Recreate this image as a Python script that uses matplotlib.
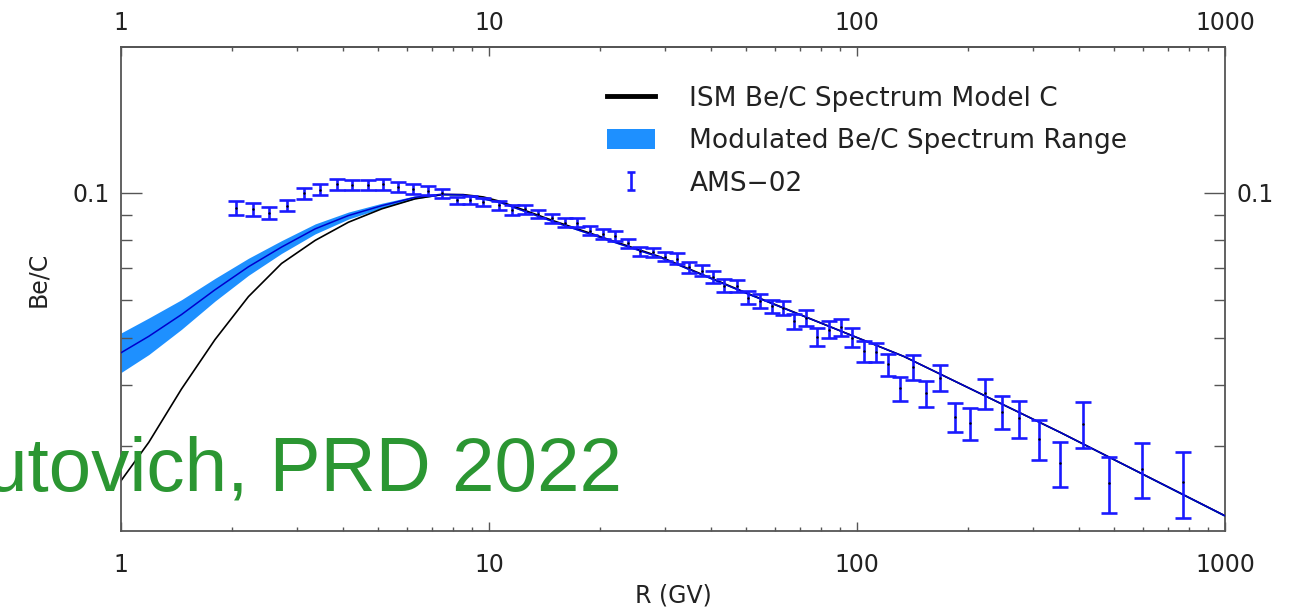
"""Be/C ratio vs rigidity: ISM model, modulated range and AMS-02 data."""
import matplotlib
matplotlib.use('Agg')
import matplotlib.pyplot as plt
import matplotlib.ticker as mticker
from matplotlib.patches import Patch
from matplotlib.lines import Line2D
from matplotlib.path import Path

W, H = 1308, 615

# ── AMS-02 Be/C points ───────────────────────────────────────────────────────
ams_R = [2.05, 2.28, 2.53, 2.82, 3.14, 3.47, 3.86, 4.25, 4.70, 5.14,
         5.67, 6.23, 6.81, 7.45, 8.20, 8.88, 9.65, 10.67, 11.53, 12.53,
         13.61, 14.81, 16.09, 17.31, 18.82, 20.37, 22.0, 23.9, 25.7, 27.96,
         30.1, 32.4, 35.0, 37.8, 40.5, 43.6, 47.1, 50.7, 54.5, 58.6,
         62.8, 67.5, 72.5, 78.0, 84.1, 90.3, 97.1, 104.5, 112.4, 121.2,
         130.9, 141.7, 154.0, 168.1, 184.6, 202.8, 222.7, 247.4, 276.1, 312.3,
         356.1, 410.6, 484.9, 593.7, 767.6]
ams_val = [0.0931, 0.0924, 0.0907, 0.0940, 0.0998, 0.1015, 0.1041, 0.1038, 0.1038, 0.1040,
           0.1027, 0.1017, 0.1010, 0.0998, 0.0965, 0.0967, 0.0957, 0.0942, 0.0922, 0.0924,
           0.0904, 0.0885, 0.0867, 0.0867, 0.0834, 0.0823, 0.0813, 0.0786, 0.0757, 0.0753,
           0.0738, 0.0730, 0.0701, 0.0690, 0.0669, 0.0643, 0.0642, 0.0607, 0.0598, 0.0582,
           0.0578, 0.0542, 0.0551, 0.0504, 0.0521, 0.0527, 0.0502, 0.0470, 0.0468, 0.0442,
           0.0394, 0.0436, 0.0385, 0.0415, 0.0344, 0.0334, 0.0385, 0.0353, 0.0342, 0.0310,
           0.0276, 0.0333, 0.0251, 0.0269, 0.0252]
ams_err = [0.0030, 0.0027, 0.0026, 0.0025, 0.0027, 0.0026, 0.0027, 0.0025, 0.0025, 0.0026,
           0.0026, 0.0025, 0.0023, 0.0021, 0.0017, 0.0019, 0.0020, 0.0021, 0.0022, 0.0020,
           0.0019, 0.0020, 0.0018, 0.0018, 0.0018, 0.0019, 0.0019, 0.0017, 0.0017, 0.0016,
           0.0016, 0.0019, 0.0018, 0.0018, 0.0019, 0.0019, 0.0018, 0.0018, 0.0019, 0.0018,
           0.0019, 0.0020, 0.0020, 0.0021, 0.0021, 0.0022, 0.0023, 0.0023, 0.0022, 0.0023,
           0.0022, 0.0025, 0.0024, 0.0026, 0.0024, 0.0025, 0.0028, 0.0028, 0.0030, 0.0029,
           0.0029, 0.0036, 0.0033, 0.0035, 0.0039]

# ── ISM model C ───────────────────────────────────────────────────────────────
ism_R = [1.0, 1.19, 1.46, 1.80, 2.22, 2.73, 3.37, 4.15, 5.11, 6.29,
         7.44, 8.5, 9.65, 10.7, 14.9, 22.7, 29.2, 50.0, 102.0, 134.0, 356.0, 1000.0]
ism_val = [0.0254, 0.0305, 0.0393, 0.0497, 0.0610, 0.0714, 0.0797, 0.0869, 0.0926, 0.0971,
           0.0991, 0.0991, 0.0980, 0.0960, 0.0876, 0.0786, 0.0737, 0.0621, 0.0499, 0.0459,
           0.0320, 0.0215]

# ── Modulated range ───────────────────────────────────────────────────────────
mod_R = [1.0, 1.19, 1.46, 1.80, 2.22, 2.73, 3.37, 4.15, 5.11, 6.29,
         7.44, 8.5, 10.7, 14.9, 22.7, 29.2, 50.0, 102.0, 134.0, 356.0, 1000.0]
mod_mid = [0.0467, 0.0505, 0.0560, 0.0630, 0.0703, 0.0772, 0.0842, 0.0897, 0.0940, 0.0978,
           0.0993, 0.0990, 0.0955, 0.0872, 0.0783, 0.0735, 0.0620, 0.0499, 0.0459, 0.0320, 0.0215]
mod_hi = [0.0513, 0.0551, 0.0601, 0.0665, 0.0732, 0.0796, 0.0862, 0.0912, 0.0951, 0.0985,
          0.0997, 0.0993, 0.0957, 0.0874, 0.0785, 0.0737, 0.0622, 0.0500, 0.0460, 0.0321, 0.0216]
mod_lo = [0.0425, 0.0463, 0.0522, 0.0597, 0.0675, 0.0749, 0.0822, 0.0882, 0.0929, 0.0971,
          0.0989, 0.0987, 0.0953, 0.0870, 0.0781, 0.0733, 0.0618, 0.0498, 0.0458, 0.0319, 0.0214]

xticks = [1, 10, 100, 1000]
xtick_labels = ['1', '10', '100', '1000']

FONT = 'DejaVu Sans'
plt.rcParams['font.family'] = FONT
TXT = '#222222'
AX_C = '#555555'
ERR_C = '#1a1aff'
BAND_C = '#1E90FF'

fig = plt.figure(figsize=(W / 100, H / 100), dpi=100)
ax = fig.add_axes([121 / W, 1 - 531 / H, (1225 - 121) / W, (531 - 47) / H])

ax.fill_between(mod_R, mod_lo, mod_hi, color=BAND_C, lw=0, zorder=1)
ax.plot(ism_R, ism_val, color='black', lw=1.2, zorder=2)
ax.plot(mod_R, mod_mid, color='#0000CC', lw=1.1, zorder=3)
ax.errorbar(ams_R, ams_val, yerr=ams_err, fmt='.', ms=1.5, color='black',
            ecolor=ERR_C, elinewidth=1.9, capsize=6, capthick=1.9, zorder=4)

ax.set_xscale('log')
ax.set_yscale('log')
ax.set_xlim(1, 1000)
ax.set_ylim(0.02, 0.2)

for s in ax.spines.values():
    s.set_color(AX_C)
    s.set_linewidth(1.3)

# x axis (bottom)
ax.set_xticks(xticks)
ax.set_xticklabels(xtick_labels)
ax.xaxis.set_minor_locator(mticker.LogLocator(base=10, subs=range(2, 10)))
ax.xaxis.set_minor_formatter(mticker.NullFormatter())
ax.tick_params(axis='x', which='major', direction='in', length=6.8, width=1,
               color=AX_C, labelsize=17, labelcolor=TXT, pad=16, top=False)
ax.tick_params(axis='x', which='minor', direction='in', length=2.9, width=1,
               color=AX_C, top=False)

# x axis (top) with its own label pad
sec = ax.secondary_xaxis('top')
sec.set_xticks(xticks)
sec.set_xticklabels(xtick_labels)
sec.xaxis.set_minor_locator(mticker.LogLocator(base=10, subs=range(2, 10)))
sec.xaxis.set_minor_formatter(mticker.NullFormatter())
sec.tick_params(axis='x', which='major', direction='in', length=6.8, width=1,
                color=AX_C, labelsize=17, labelcolor=TXT, pad=8.5)
sec.tick_params(axis='x', which='minor', direction='in', length=2.9, width=1, color=AX_C)
sec.spines['top'].set_color(AX_C)
sec.spines['top'].set_linewidth(1.3)

# y axis, both sides
ax.yaxis.set_major_locator(mticker.FixedLocator([0.1]))
ax.yaxis.set_major_formatter(mticker.FixedFormatter(['0.1']))
ax.yaxis.set_minor_locator(mticker.FixedLocator([0.03, 0.04, 0.05, 0.06, 0.07, 0.08, 0.09]))
ax.yaxis.set_minor_formatter(mticker.NullFormatter())
ax.tick_params(axis='y', which='major', direction='in', length=15, width=1,
               color=AX_C, labelsize=17, labelcolor=TXT, pad=8,
               left=True, right=True, labelleft=True, labelright=True)
ax.tick_params(axis='y', which='minor', direction='in', length=7.9, width=1,
               color=AX_C, left=True, right=True)

ax.set_xlabel('R (GV)', fontsize=17, color=TXT)
ax.xaxis.set_label_coords(0.5, (531 - 584) / 484)
ax.set_ylabel('Be/C', fontsize=17, color=TXT)
ax.yaxis.set_label_coords((50 - 121) / 1104, 0.52)

# legend; the AMS handle is an "I" shaped marker (bar with two caps)
ibar = Path([(-0.45, -1), (0.45, -1), (0, -1), (0, 1), (-0.45, 1), (0.45, 1)],
            [Path.MOVETO, Path.LINETO, Path.MOVETO, Path.LINETO, Path.MOVETO, Path.LINETO])
handles = [Line2D([], [], color='black', lw=3.5),
           Patch(facecolor=BAND_C, edgecolor='none'),
           Line2D([], [], ls='none', marker=ibar, ms=12.5, mew=1.9,
                  mec=ERR_C, mfc='none')]
labels = ['ISM Be/C Spectrum Model C', 'Modulated Be/C Spectrum Range', 'AMS\u221202']
leg = ax.legend(handles, labels, loc='upper left', frameon=False,
                bbox_to_anchor=(607 / W, 1 - 86 / H), bbox_transform=fig.transFigure,
                fontsize=19, handlelength=1.82, handleheight=0.8, handletextpad=1.3,
                labelspacing=0.62, borderaxespad=0, borderpad=0)
for t in leg.get_texts():
    t.set_color(TXT)

# citation overlay, clipped at the left edge
fig.text(622 / W, 1 - 490 / H, 'utovich, PRD 2022', ha='right', va='baseline',
         fontsize=55, color='#2B9632', family=['Liberation Sans', 'DejaVu Sans'],
         zorder=10)

fig.savefig('out.png', dpi=100)
plt.close(fig)
